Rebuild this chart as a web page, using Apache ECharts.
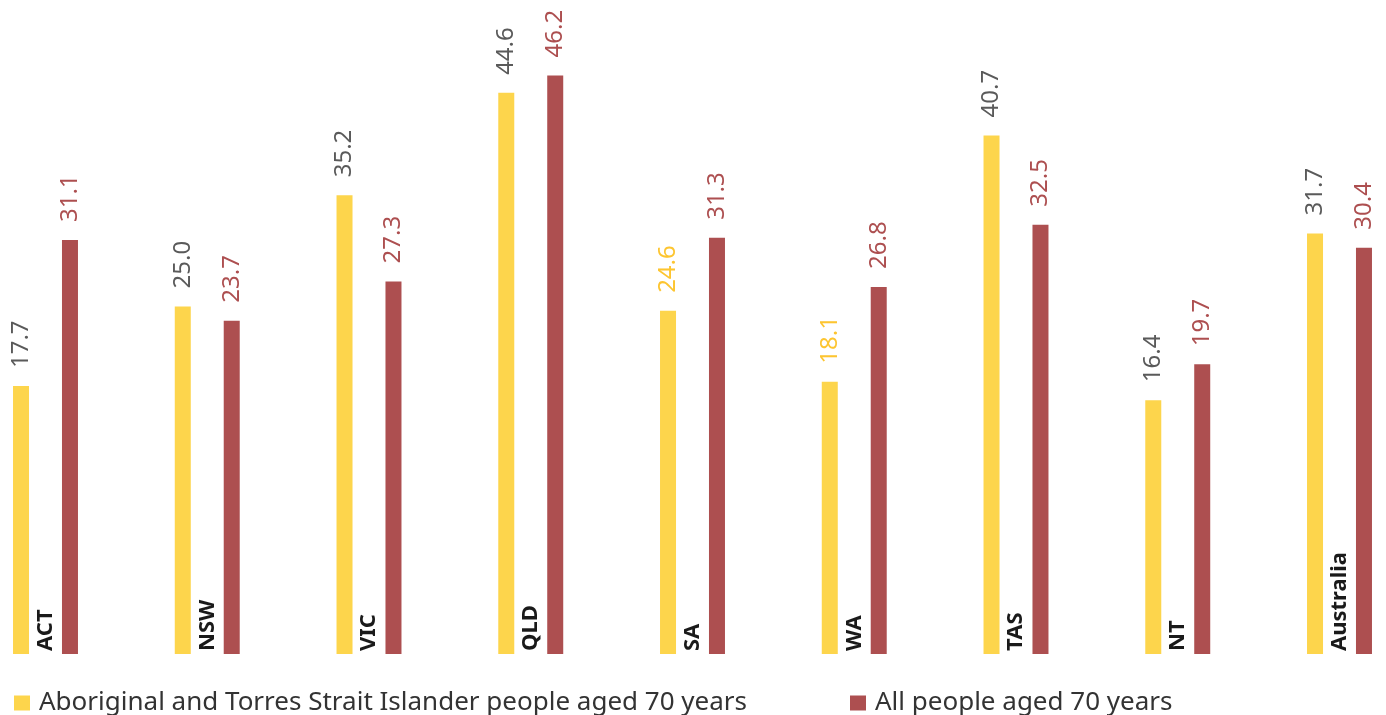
<!DOCTYPE html>
<html>
<head>
<meta charset="utf-8">
<script src="https://cdn.jsdelivr.net/npm/echarts@6/dist/echarts.min.js"></script>
<style>
html,body{margin:0;padding:0;background:#fff;}
#chart{width:1386px;height:715px;}
</style>
</head>
<body>
<div id="chart"></div>
<script>
const categories = ['ACT', 'NSW', 'VIC', 'QLD', 'SA', 'WA', 'TAS', 'NT', 'Australia'];
const indigenousValues = [17.7, 25.0, 35.2, 44.6, 24.6, 18.1, 40.7, 16.4, 31.7];
const allPeopleValues = [31.1, 23.7, 27.3, 46.2, 31.3, 26.8, 32.5, 19.7, 30.4];
const seriesNames = ['Aboriginal and Torres Strait Islander people aged 70 years', 'All people aged 70 years'];

// presentation settings
const AXIS_BASE = 6.88; // the value axis of the original starts below zero
const YELLOW = '#FDD54C';
const RED = '#AD4F50';
const GREY_LABEL = '#5a5a5a';
const YELLOW_LABEL = '#FDC530';
const yellowLabelCategories = ['SA', 'WA'];
const FONT = 'Noto Sans';

const baseData = categories.map(() => AXIS_BASE);

function valueLabel(color) {
  return {
    show: true,
    position: 'top',
    distance: 18,
    rotate: 90,
    align: 'left',
    verticalAlign: 'middle',
    fontFamily: FONT,
    fontSize: 24,
    color: color,
    formatter: p => p.value.toFixed(1)
  };
}

const indigenousData = indigenousValues.map((v, i) => ({
  value: v,
  label: {color: yellowLabelCategories.includes(categories[i]) ? YELLOW_LABEL : GREY_LABEL}
}));

const legendCommon = {
  top: 690,
  padding: 0,
  itemWidth: 16, itemHeight: 15,
  icon: 'rect',
  textStyle: {fontFamily: FONT, fontSize: 26, color: '#333', padding: [0, 0, 0, 4]}
};

const chart = echarts.init(document.getElementById('chart'), null, {renderer: 'canvas'});
chart.setOption({
  animation: false,
  grid: {left: 45.5, right: 46.5, top: 0, bottom: 61, containLabel: false},
  xAxis: {
    type: 'category',
    data: categories,
    boundaryGap: false,
    axisLine: {show: false},
    axisTick: {show: false},
    splitLine: {show: false},
    axisLabel: {
      inside: true,
      rotate: 90,
      margin: 3,
      fontFamily: FONT,
      fontWeight: 'bold',
      fontSize: 22,
      color: '#1a1a1a',
      interval: 0
    },
    z: 10
  },
  yAxis: {
    type: 'value',
    min: 0,
    max: 60,
    show: false,
    splitLine: {show: false}
  },
  legend: [
    Object.assign({data: [seriesNames[0]], left: 14}, legendCommon),
    Object.assign({data: [seriesNames[1]], left: 850}, legendCommon)
  ],
  series: [
    {
      name: 'baseY', type: 'bar', stack: 'y', data: baseData,
      barWidth: 16, barGap: '206%',
      itemStyle: {color: YELLOW}, silent: true
    },
    {
      name: seriesNames[0], type: 'bar', stack: 'y', data: indigenousData,
      barWidth: 16, barGap: '206%',
      itemStyle: {color: YELLOW},
      label: valueLabel(GREY_LABEL)
    },
    {
      name: 'baseR', type: 'bar', stack: 'r', data: baseData,
      barWidth: 16, barGap: '206%',
      itemStyle: {color: RED}, silent: true
    },
    {
      name: seriesNames[1], type: 'bar', stack: 'r', data: allPeopleValues,
      barWidth: 16, barGap: '206%',
      itemStyle: {color: RED},
      label: valueLabel(RED)
    }
  ]
});
</script>
</body>
</html>
